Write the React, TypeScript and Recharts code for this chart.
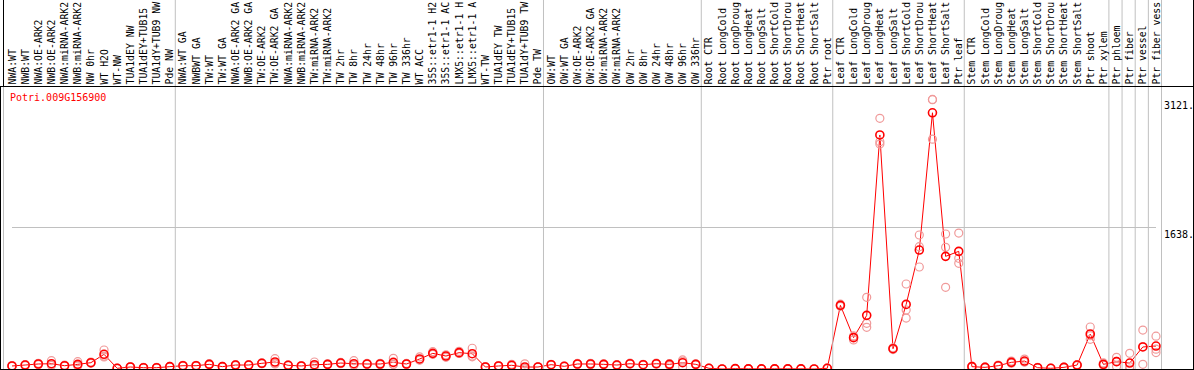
import React from "react"
import { ComposedChart, Line, XAxis, YAxis, ReferenceLine } from "recharts"

const GENE = "Potri.009G156900"

const categories = [
  "NWA:WT", "NWB:WT", "NWA:OE-ARK2", "NWB:OE-ARK2", "NWA:miRNA-ARK2", "NWB:miRNA-ARK2",
  "NW 0hr", "WT H2O", "WT-NW", "TUA1dEY NW", "TUA1dEY+TUB15 NW", "TUA1dY+TUB9 NW", "Pde NW",
  "NWA:WT GA", "NWBWT GA", "TW:WT", "TW:WT GA", "NWA:OE-ARK2 GA", "NWB:OE-ARK2 GA", "TW:OE-ARK2",
  "TW:OE-ARK2 GA", "NWA:miRNA-ARK2", "NWB:miRNA-ARK2", "TW:miRNA-ARK2", "TW:miRNA-ARK2 ",
  "TW 2hr", "TW 8hr", "TW 24hr", "TW 48hr", "TW 96hr", "TW 336hr", "WT ACC",
  "35S::etr1-1 H2O", "35S::etr1-1 ACC", "LMX5::etr1-1 H2O", "LMX5::etr1-1 ACC",
  "WT-TW", "TUA1dEY TW", "TUA1dEY+TUB15 TW", "TUA1dY+TUB9 TW", "Pde TW",
  "OW:WT", "OW:WT GA", "OW:OE-ARK2", "OW:OE-ARK2 GA", "OW:miRNA-ARK2", "OW:miRNA-ARK2 ",
  "OW 2hr", "OW 8hr", "OW 24hr", "OW 48hr", "OW 96hr", "OW 336hr",
  "Root CTR", "Root LongCold", "Root LongDrought", "Root LongHeat", "Root LongSalt",
  "Root ShortCold", "Root ShortDrought", "Root ShortHeat", "Root ShortSalt", "Ptr root",
  "Leaf CTR", "Leaf LongCold", "Leaf LongDrought", "Leaf LongHeat", "Leaf LongSalt",
  "Leaf ShortCold", "Leaf ShortDrought", "Leaf ShortHeat", "Leaf ShortSalt", "Ptr leaf",
  "Stem CTR", "Stem LongCold", "Stem LongDrought", "Stem LongHeat", "Stem LongSalt",
  "Stem ShortCold", "Stem ShortDrought", "Stem ShortHeat", "Stem ShortSalt", "Ptr shoot",
  "Ptr xylem", "Ptr phloem", "Ptr fiber", "Ptr vessel", "Ptr fiber vessel",
]

const meanValues = [
  35, 46, 58, 61, 38, 54, 73, 170, 8, 23, 15, 15, 27,
  38, 38, 54, 27, 46, 46, 66, 81, 43, 35, 50, 54, 69, 61, 58, 58, 77, 58, 116,
  181, 150, 189, 177, 23, 35, 43, 23, 23,
  50, 31, 58, 58, 54, 46, 61, 50, 61, 54, 73, 54,
  8, 0, 4, 2, 2, 2, 2, 2, 0, 8,
  737, 363, 621, 2709, 235, 748, 1377, 2966, 1304, 1362,
  27, 19, 38, 77, 92, 15, 8, 19, 46, 405,
  54, 85, 69, 255, 266,
]

const rep1 = [
  30, 40, 50, 96, 32, 85, 66, 220, 5, 20, 12, 12, 24,
  34, 34, 48, 24, 40, 42, 60, 119, 38, 30, 81, 48, 62, 96, 52, 50, 124, 52, 140,
  200, 135, 205, 240, 19, 30, 55, 60, 20,
  45, 28, 52, 50, 48, 40, 55, 45, 55, 40, 90, 48,
  6, 0, 3, 2, 2, 2, 2, 2, 0, 5,
  725, 336, 830, 2902, 245, 984, 1551, 3121, 1563, 1574,
  20, 15, 45, 92, 115, 12, 6, 16, 40, 486,
  70, 135, 182, 451, 380,
]

const rep2 = [
  40, 52, 66, 45, 44, 40, 80, 150, 10, 27, 18, 19, 30,
  42, 43, 62, 31, 52, 50, 72, 65, 48, 40, 38, 60, 76, 45, 64, 66, 55, 64, 105,
  170, 165, 180, 150, 27, 40, 38, 5, 26,
  55, 34, 64, 66, 60, 52, 67, 55, 67, 62, 105, 60,
  10, 0, 5, 2, 2, 2, 2, 2, 0, 12,
  750, 370, 529, 2631, 225, 683, 1416, 3118, 1409, 1281,
  34, 24, 32, 68, 80, 18, 10, 22, 52, 344,
  45, 90, 27, 54, 230,
]

const rep3 = [
  35, 46, 58, 42, 38, 37, 73, 140, 8, 22, 15, 14, 27,
  38, 37, 52, 26, 46, 46, 66, 59, 43, 35, 31, 54, 69, 42, 58, 58, 52, 58, 103,
  173, 150, 182, 141, 23, 35, 36, 4, 23,
  50, 31, 58, 58, 54, 46, 61, 50, 61, 60, 24, 54,
  8, 0, 4, 2, 2, 2, 2, 2, 0, 7,
  736, 383, 483, 2604, 235, 590, 1181, 2660, 946, 1223,
  27, 18, 37, 71, 81, 15, 8, 19, 46, 385,
  47, 30, 0, 260, 190,
]

// last index of each sample group, a grey divider follows it
const groupEnds = [12, 40, 52, 62, 72, 83, 84, 85, 86, 87]

const yTicks = [0, 1638, 3121]
const yMax = 3276

// header column only holds 14 characters
const MAX_CHARS = 14

const data = categories.map((name, i) => ({
  name,
  mean: meanValues[i],
  r1: rep1[i],
  r2: rep2[i],
  r3: rep3[i],
}))

const FONT = "'DejaVu Sans Mono', monospace"
const W = 1194
const H = 370

function HeaderTick(props: any) {
  const { x, payload, index } = props
  const label = String(payload.value).trim().slice(0, MAX_CHARS)
  return (
    <g>
      {index === 0 && (
        <>
          <line x1={x - 8.5} y1={0} x2={x - 8.5} y2={86} stroke="#000" />
          <line x1={x - 8.5} y1={86} x2={x - 8.5} y2={369} stroke="#c0c0c0" />
        </>
      )}
      {groupEnds.includes(index) && (
        <line x1={x + 5.5} y1={0} x2={x + 5.5} y2={369} stroke="#c0c0c0" />
      )}
      <text
        transform={`translate(${x + 3.5},84.5) rotate(-90)`}
        fontSize={9.8}
        fontFamily={FONT}
        fill="#000"
        textAnchor="start"
      >
        {label}
      </text>
    </g>
  )
}

function ValueTick(props: any) {
  const { x, y, payload } = props
  return (
    <text x={x} y={y + (payload.value === 0 ? -4 : 10)} fontSize={10} fontFamily={FONT} fill="#000" textAnchor="start">
      {payload.value === 0 ? "0" : `${payload.value}.`}
    </text>
  )
}

const repDot = { r: 4, stroke: "#f09a9a", strokeWidth: 1.2, fill: "none" }
const meanDot = { r: 4, stroke: "#ff0000", strokeWidth: 1.6, fill: "none" }

export default function App() {
  return (
    <div style={{ position: "relative", width: W, height: H, background: "#fff" }}>
      <style>{"body{margin:0}"}</style>
      <ComposedChart width={W} height={H} data={data} margin={{ top: 0, right: 0, bottom: 1, left: 12 }}>
        <XAxis
          dataKey="name"
          orientation="top"
          height={86}
          interval={0}
          tickLine={false}
          axisLine={false}
          tick={<HeaderTick />}
        />
        <YAxis
          orientation="right"
          width={38}
          domain={[0, yMax]}
          ticks={yTicks}
          axisLine={false}
          tickLine={false}
          tick={<ValueTick />}
        />
        <ReferenceLine y={1638} stroke="#c0c0c0" />
        <Line dataKey="r1" stroke="none" dot={repDot} activeDot={false} isAnimationActive={false} legendType="none" />
        <Line dataKey="r2" stroke="none" dot={repDot} activeDot={false} isAnimationActive={false} legendType="none" />
        <Line dataKey="r3" stroke="none" dot={repDot} activeDot={false} isAnimationActive={false} legendType="none" />
        <Line
          dataKey="mean"
          stroke="#ff0000"
          strokeWidth={1}
          dot={meanDot}
          activeDot={false}
          isAnimationActive={false}
          legendType="none"
        />
      </ComposedChart>
      <svg width={W} height={H} style={{ position: "absolute", left: 0, top: 0, pointerEvents: "none" }}>
        <line x1={0} y1={86.5} x2={W} y2={86.5} stroke="#000" />
        <line x1={0} y1={369.5} x2={W} y2={369.5} stroke="#000" />
        <line x1={1193.5} y1={0} x2={1193.5} y2={H} stroke="#000" />
        <line x1={0.5} y1={86} x2={0.5} y2={H} stroke="#000" />
        <text x={10} y={101} fontSize={10} fontFamily={FONT} fill="#ff0000">
          {GENE}
        </text>
      </svg>
    </div>
  )
}
